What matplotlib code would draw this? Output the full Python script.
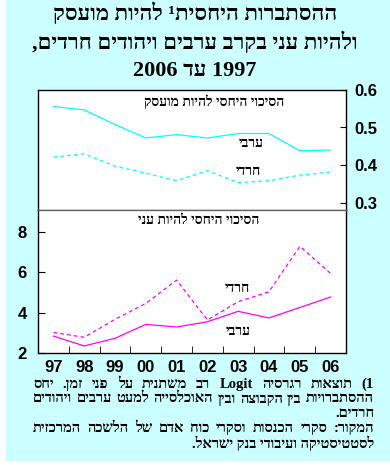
import re
import matplotlib
matplotlib.use("Agg")
import matplotlib.pyplot as plt
from matplotlib.patches import Rectangle

HEB = ["Liberation Serif", "DejaVu Serif", "DejaVu Sans"]
NUM = ["Liberation Sans", "DejaVu Sans"]


def rtl(s):
    # matplotlib has no bidi: flip to visual order, keep latin/digit runs
    s = s[::-1]
    s = s.translate(str.maketrans("()", ")("))
    return re.sub(r"[A-Za-z0-9]+", lambda m: m.group()[::-1], s)


years = ["97", "98", "99", "00", "01", "02", "03", "04", "05", "06"]

# relative odds of being employed
emp_arab = [0.556, 0.547, 0.508, 0.472, 0.481, 0.472, 0.484, 0.484, 0.438, 0.440]
emp_haredi = [0.421, 0.430, 0.397, 0.378, 0.358, 0.385, 0.353, 0.358, 0.373, 0.381]

# relative odds of being poor
poor_arab = [2.84, 2.35, 2.73, 3.42, 3.29, 3.55, 4.07, 3.74, 4.26, 4.78]
poor_haredi = [3.02, 2.78, 3.67, 4.46, 5.62, 3.64, 4.55, 5.04, 7.30, 5.95]

title_lines = ["ההסתברות היחסית¹ להיות מועסק",
               "ולהיות עני בקרב ערבים ויהודים חרדים,",
               "1997 עד 2006"]
note_lines = ["1) תוצאות רגרסיה Logit רב משתנית על פני זמן. יחס",
              "ההסתברויות בין הקבוצה ובין האוכלסייה למעט ערבים ויהודים",
              "חרדים.",
              "המקור: סקרי הכנסות וסקרי כוח אדם של הלשכה המרכזית",
              "לסטטיסטיקה ועיבודי בנק ישראל."]
note_justify = [True, True, False, True, False]

W, H = 390, 465
fig = plt.figure(figsize=(W / 100, H / 100), dpi=100)
fig.patch.set_facecolor("white")
fig.patches.append(Rectangle((6 / W, 5 / H), 1 - 6 / W, 1 - 5 / H,
                             transform=fig.transFigure, color="#ccffff", zorder=-5))

left, right = 38 / W, 346 / W
ax1 = fig.add_axes([left, 1 - 210 / H, right - left, 120 / H])
ax2 = fig.add_axes([left, 1 - 353 / H, right - left, 143 / H])

x = range(len(years))
ax1.plot(x, emp_arab, color="#00ffff", lw=0.9)
ax1.plot(x, emp_haredi, color="#00ffff", lw=0.9, dashes=(3, 2.5))
ax2.plot(x, poor_arab, color="#ff00ff", lw=0.9)
ax2.plot(x, poor_haredi, color="#ff00ff", lw=0.9, dashes=(3, 2.5))

for ax in (ax1, ax2):
    ax.set_facecolor("white")
    ax.set_xlim(-0.5, len(years) - 0.5)
    for sp in ax.spines.values():
        sp.set_color("black")
        sp.set_linewidth(1)

ax1.set_ylim(0.28, 0.6)
ax1.set_xticks([])
ax1.yaxis.tick_right()
ax1.set_yticks([0.3, 0.4, 0.5, 0.6])
ax1.set_yticklabels(["0.3", "0.4", "0.5", "0.6"])
ax1.tick_params(axis="y", direction="in", length=4, pad=6, labelsize=12)
ax1.spines["bottom"].set_color("#666666")

ax2.set_ylim(2, 9.1)
ax2.set_yticks([2, 4, 6, 8])
ax2.tick_params(axis="y", direction="in", length=5, pad=8, labelsize=12)
ax2.set_xticks(list(x))
ax2.set_xticklabels(years)
ax2.set_xticks([i + 0.5 for i in range(len(years) - 1)], minor=True)
ax2.tick_params(axis="x", which="major", length=0, pad=5, labelsize=12)
ax2.tick_params(axis="x", which="minor", direction="in", length=5)
ax2.spines["top"].set_color("#666666")

for ax in (ax1, ax2):
    for lab in ax.get_xticklabels() + ax.get_yticklabels():
        lab.set_family(NUM)
        lab.set_fontweight("bold")

lab_kw = dict(family=HEB, fontweight="bold", fontsize=10, ha="center",
              va="center", zorder=5)
ax1.text(0.571, 0.905, rtl("הסיכוי היחסי להיות מועסק"), transform=ax1.transAxes, **lab_kw)
ax1.text(0.692, 0.558, rtl("ערבי"), transform=ax1.transAxes, **lab_kw)
ax1.text(0.682, 0.325, rtl("חרדי"), transform=ax1.transAxes, **lab_kw)
ax2.text(0.523, 0.93, rtl("הסיכוי היחסי להיות עני"), transform=ax2.transAxes, **lab_kw)
ax2.text(0.646, 0.448, rtl("חרדי"), transform=ax2.transAxes, **lab_kw)
ax2.text(0.649, 0.15, rtl("ערבי"), transform=ax2.transAxes, **lab_kw)

for i, line in enumerate(title_lines):
    fig.text(195 / W, 1 - (14 + 28.5 * i) / H, rtl(line), family=HEB,
             fontweight="bold", fontsize=16, ha="center", va="center")

# footnote: justified lines, word by word
renderer = fig.canvas.get_renderer()
x0, x1 = 33, 374
note_kw = dict(family=HEB, fontweight="bold", fontsize=10.5, va="center")
for line, just, y in zip(note_lines, note_justify, [384, 399, 413, 428, 443]):
    yf = 1 - y / H
    if not just:
        fig.text(x1 / W, yf, rtl(line), ha="right", **note_kw)
        continue
    words = [rtl(w) for w in line.split()][::-1]
    texts = [fig.text(0, yf, w, ha="left", **note_kw) for w in words]
    widths = [t.get_window_extent(renderer).width for t in texts]
    gap = (x1 - x0 - sum(widths)) / (len(words) - 1)
    pos = x0
    for t, wd in zip(texts, widths):
        t.set_x(pos / W)
        pos += wd + gap

fig.savefig("out.png", dpi=100, facecolor=fig.get_facecolor())
